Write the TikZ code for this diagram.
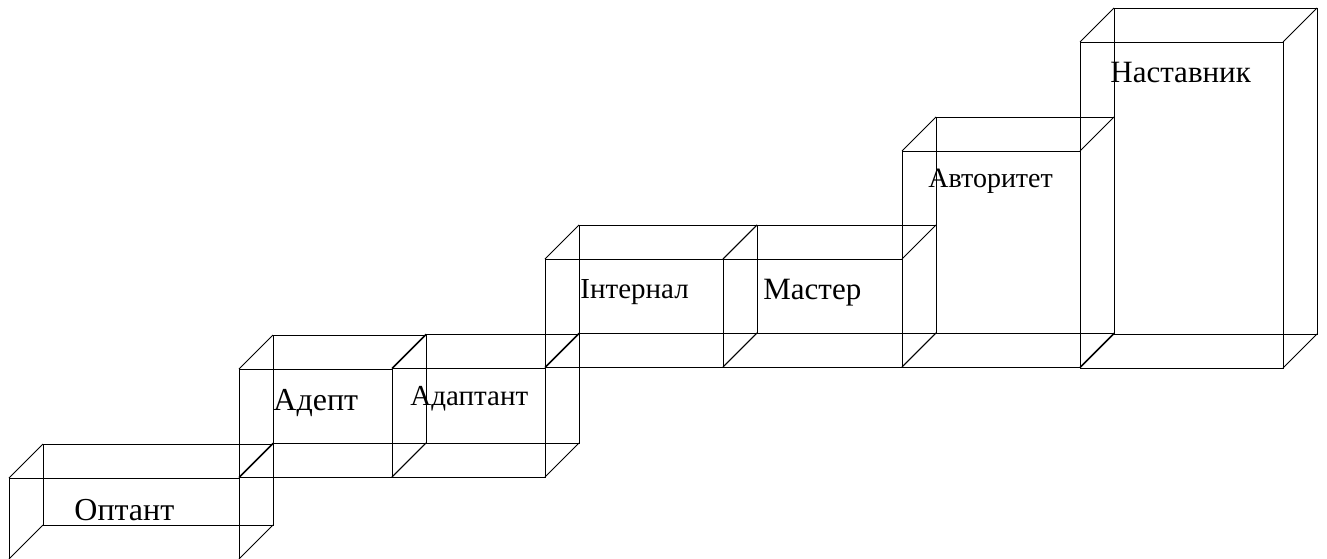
\documentclass[tikz,border=0pt]{standalone}
\usepackage{fontspec}
\setmainfont{Liberation Serif}
\begin{document}
\begin{tikzpicture}[x=1pt, y=-1pt, line width=0.8pt,
    stage/.style={inner sep=0pt, anchor=base west}]
    \useasboundingbox (0,0) rectangle (1327,558);
    % front face of each step: left/top/right/bottom, depth 34
    \foreach \xa/\ya/\xb/\yb in {9/478/239/559, 239/369/392/477, 392/368/545/477,
        545/259/723/367, 723/259/902/367, 902/151/1080/367, 1080/42/1283/368}
    {
        \draw (\xa,\ya) rectangle (\xb,\yb);
        \draw (\xa+34,\ya-34) rectangle (\xb+34,\yb-34);
        \draw (\xa,\ya) -- ++(34,-34) (\xb,\ya) -- ++(34,-34)
              (\xa,\yb) -- ++(34,-34) (\xb,\yb) -- ++(34,-34);
    }
    \node[stage, font=\fontsize{32}{36}\selectfont] (optant) at (74,520) {Оптант};
    \node[stage, font=\fontsize{32}{36}\selectfont] (adept) at (273,410) {Адепт};
    \node[stage, font=\fontsize{29}{33}\selectfont] (adaptant) at (410,405) {Адаптант};
    \node[stage, font=\fontsize{29}{33}\selectfont] (internal) at (580,298) {Інтернал};
    \node[stage, font=\fontsize{31}{35}\selectfont] (master) at (763,299) {Мастер};
    \node[stage, font=\fontsize{28}{32}\selectfont] (avtoritet) at (928,187) {Авторитет};
    \node[stage, font=\fontsize{31}{35}\selectfont] (nastavnyk) at (1110,82) {Наставник};
\end{tikzpicture}
\end{document}
